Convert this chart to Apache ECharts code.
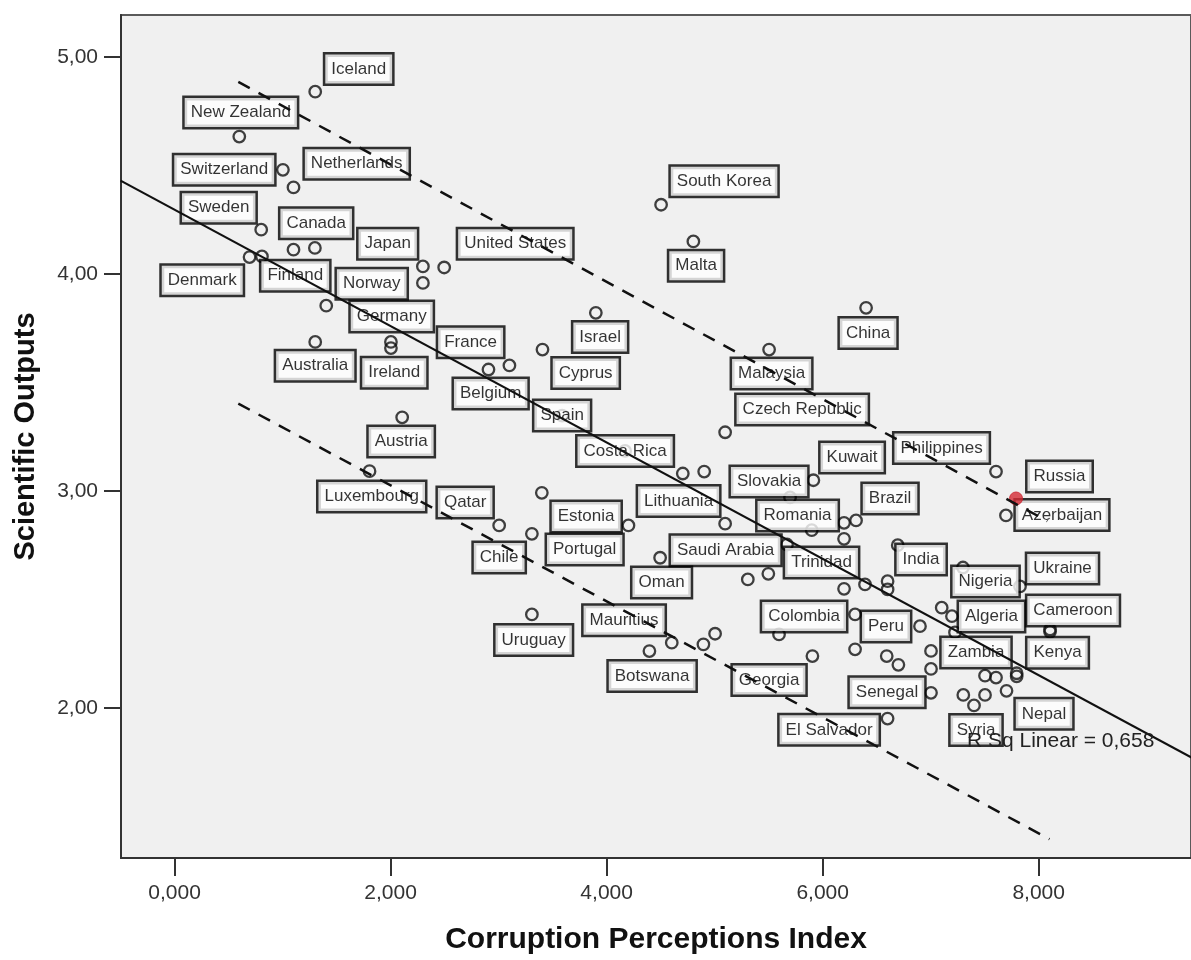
<!DOCTYPE html>
<html>
<head>
<meta charset="utf-8">
<script src="https://cdn.jsdelivr.net/npm/echarts@6/dist/echarts.min.js"></script>
<style>
  html, body { margin: 0; padding: 0; background: #ffffff; }
  #chart { width: 1191px; height: 960px; }
</style>
</head>
<body>
<div id="chart"></div>
<script>
// Axis ticks
const xTicks = [0, 2, 4, 6, 8];
const yTicks = [2, 3, 4, 5];

// Labelled countries: Corruption Perceptions Index vs Scientific Outputs
const countries = ['Iceland', 'New Zealand', 'Switzerland', 'Netherlands', 'Sweden', 'Canada', 'Japan', 'United States',
  'Denmark', 'Finland', 'Norway', 'Germany', 'Australia', 'Ireland', 'Austria', 'Luxembourg', 'France', 'Belgium',
  'Cyprus', 'Israel', 'Spain', 'Costa Rica', 'Lithuania', 'South Korea', 'Malta', 'China', 'Malaysia', 'Czech Republic',
  'Philippines', 'Russia', 'Azerbaijan', 'Kuwait', 'Slovakia', 'Brazil', 'Romania', 'Estonia', 'Qatar', 'Chile',
  'Portugal', 'Saudi Arabia', 'Oman', 'Trinidad', 'India', 'Nigeria', 'Ukraine', 'Algeria', 'Peru', 'Colombia',
  'Cameroon', 'Kenya', 'Georgia', 'Zambia', 'Senegal', 'El Salvador', 'Nepal', 'Syria', 'Uruguay', 'Mauritius', 'Botswana'];
const cpi = [1.302, 0.599, 1.003, 1.101, 0.802, 1.299, 2.299, 2.496,
  0.694, 0.809, 1.404, 2.299, 1.302, 2.003, 2.107, 1.805, 3.100, 2.906,
  3.406, 3.900, 3.588, 4.171, 4.705, 4.504, 4.803, 6.402, 5.504, 5.097,
  7.605, 7.790, 7.697, 5.914, 5.698, 6.309, 5.899, 3.400, 3.005, 3.308,
  4.202, 5.097, 4.495, 5.670, 6.695, 7.299, 7.827, 7.197, 6.901, 6.300,
  8.105, 8.105, 5.905, 7.003, 7.003, 6.601, 7.702, 7.401, 3.308, 4.603, 4.396];
const outputs = [4.840, 4.633, 4.480, 4.399, 4.204, 4.120, 4.035, 4.030,
  4.078, 4.081, 3.854, 3.959, 3.687, 3.659, 3.340, 3.092, 3.579, 3.560,
  3.652, 3.821, 3.348, 3.185, 3.081, 4.319, 4.150, 3.844, 3.652, 3.271,
  3.090, 2.966, 2.888, 3.050, 2.971, 2.865, 2.820, 2.992, 2.842, 2.803,
  2.842, 2.850, 2.693, 2.754, 2.751, 2.648, 2.561, 2.424, 2.378, 2.432,
  2.363, 2.352, 2.240, 2.264, 2.071, 1.952, 2.080, 2.013, 2.432, 2.302, 2.263];

// Unlabelled countries
const otherCpi = [1.101, 2.003, 4.903, 6.198, 6.198, 5.497, 5.307, 6.198, 6.392, 6.601, 6.601, 7.102, 7.225,
  5.596, 6.300, 6.593, 6.701, 7.003, 7.503, 7.605, 7.796, 7.796, 7.302, 7.503, 4.896, 5.004];
const otherOutputs = [4.112, 3.687, 3.090, 2.854, 2.780, 2.619, 2.593, 2.550, 2.570, 2.585, 2.547, 2.463, 2.349,
  2.340, 2.271, 2.240, 2.200, 2.181, 2.150, 2.141, 2.161, 2.147, 2.061, 2.061, 2.294, 2.343];

// Country drawn with a filled marker
const highlighted = 'Russia';

// Linear fit and its prediction band (end points)
const fitX = [-0.5, 9.45];
const fitY = [4.430, 1.763];
const upperX = [0.59, 8.08];
const upperY = [4.885, 2.862];
const lowerX = [0.59, 8.10];
const lowerY = [3.403, 1.397];
const rSquared = '0,658';

// Where each country's label box sits relative to its marker, in pixels
const labelOffsets = [[43.5, -22.7], [1.5, -24.2], [-58.7, 0], [63.2, -23.7], [-42.5, -22], [1.3, -24.8], [-35.2, -22.7], [71, -23.7],
  [-47.3, 23.2], [33.3, 19.3], [45.5, -22], [-31.2, 33.7], [0, 23.7], [3.3, 24.7], [-1, 24.3], [2.2, 25.3], [-38.8, -23.2], [2.2, 24],
  [43.2, 23.5], [4.3, 24.2], [0, 0], [0, 0], [-4.2, 27.5], [63, -23.5], [2.7, 24.3], [2, 25.2], [2.5, 24], [77, -22.7],
  [-54.5, -23.5], [43.5, -22], [56, -0.5], [38.7, -22.7], [-21, -16], [34, -22], [-14.2, -14.7], [44.3, 23.7], [-34, -23], [-32.7, 23.7],
  [-43.8, 24], [0.5, 26.7], [1.5, 24.7], [34.5, 18], [23.3, 14.3], [22.5, 14], [42.5, -18], [39.5, 0.3], [-34, 0.3], [-51, 2],
  [23, -19], [7.5, 21], [-43.3, 23.8], [45, 1.5], [-44, -0.5], [-58.5, 11.2], [37.5, 23], [2, 24.5], [1.8, 25.5], [-47.7, -22.3], [2.7, 24.8]];

const FONT = "'Liberation Sans', Arial, sans-serif";

const labelStyle = {
  show: true,
  position: 'inside',
  formatter: '{b}',
  color: '#000',
  fontFamily: FONT,
  fontSize: 17,
  lineHeight: 20,
  backgroundColor: '#ffffff',
  borderColor: '#000',
  borderWidth: 2.5,
  padding: [5, 6, 4, 6]
};

const plainPoints = [];
const hiPoints = [];
countries.forEach((name, i) => {
  const item = {
    name: name,
    value: [cpi[i], outputs[i]],
    label: { show: true, offset: labelOffsets[i] }
  };
  if (name === highlighted) hiPoints.push(item); else plainPoints.push(item);
});
otherCpi.forEach((x, i) => {
  plainPoints.push({ name: '', value: [x, otherOutputs[i]], label: { show: false } });
});

const pairs = (xs, ys) => xs.map((x, i) => [x, ys[i]]);

const chart = echarts.init(document.getElementById('chart'), null, { renderer: 'canvas' });
chart.setOption({
  animation: false,
  backgroundColor: '#ffffff',
  grid: {
    left: 121, top: 15, right: -2, bottom: 101,
    show: true,
    backgroundColor: '#f0f0f0',
    borderColor: '#5a5a5a',
    borderWidth: 2
  },
  xAxis: {
    type: 'value',
    min: -0.496, max: 9.41,
    name: 'Corruption Perceptions Index',
    nameLocation: 'middle',
    nameGap: 67,
    nameTextStyle: { fontFamily: FONT, fontSize: 30, fontWeight: 'bold', color: '#111' },
    axisLine: { show: true, onZero: false, lineStyle: { color: '#333', width: 2 } },
    axisTick: { show: true, customValues: xTicks, length: 18, lineStyle: { color: '#333', width: 2 } },
    axisLabel: {
      customValues: xTicks, margin: 25, fontFamily: FONT, fontSize: 21, color: '#333',
      formatter: v => v.toFixed(3).replace('.', ',')
    },
    splitLine: { show: false }
  },
  yAxis: {
    type: 'value',
    min: 1.310, max: 5.193,
    name: 'Scientific Outputs',
    nameLocation: 'middle',
    nameRotate: 90,
    nameGap: 81,
    nameTextStyle: { fontFamily: FONT, fontSize: 29, fontWeight: 'bold', color: '#111' },
    axisLine: { show: true, onZero: false, lineStyle: { color: '#333', width: 2 } },
    axisTick: { show: true, customValues: yTicks, length: 17, lineStyle: { color: '#333', width: 2 } },
    axisLabel: {
      customValues: yTicks, margin: 23, fontFamily: FONT, fontSize: 21, color: '#333',
      formatter: v => v.toFixed(2).replace('.', ',')
    },
    splitLine: { show: false }
  },
  graphic: [{
    type: 'text',
    left: 967, top: 731, z: 100,
    style: { text: 'R Sq Linear = ' + rSquared, font: '21px ' + FONT, fill: '#222' }
  }],
  series: [
    {
      type: 'scatter',
      z: 2,
      symbol: 'circle',
      symbolSize: 11.5,
      itemStyle: { color: 'rgba(0,0,0,0)', borderColor: '#111', borderWidth: 2.3 },
      label: labelStyle,
      emphasis: { disabled: true },
      data: plainPoints
    },
    {
      type: 'scatter',
      z: 3,
      symbol: 'circle',
      symbolSize: 13,
      itemStyle: { color: '#d42a35', borderColor: '#c9202c', borderWidth: 1 },
      label: labelStyle,
      emphasis: { disabled: true },
      data: hiPoints
    },
    {
      type: 'line', z: 4, symbol: 'none', silent: true,
      lineStyle: { color: '#111', width: 2.2 },
      data: pairs(fitX, fitY)
    },
    {
      type: 'line', z: 4, symbol: 'none', silent: true,
      lineStyle: { color: '#111', width: 2.5, type: [13, 10] },
      data: pairs(upperX, upperY)
    },
    {
      type: 'line', z: 4, symbol: 'none', silent: true,
      lineStyle: { color: '#111', width: 2.5, type: [13, 10] },
      data: pairs(lowerX, lowerY)
    }
  ]
});
</script>
</body>
</html>
